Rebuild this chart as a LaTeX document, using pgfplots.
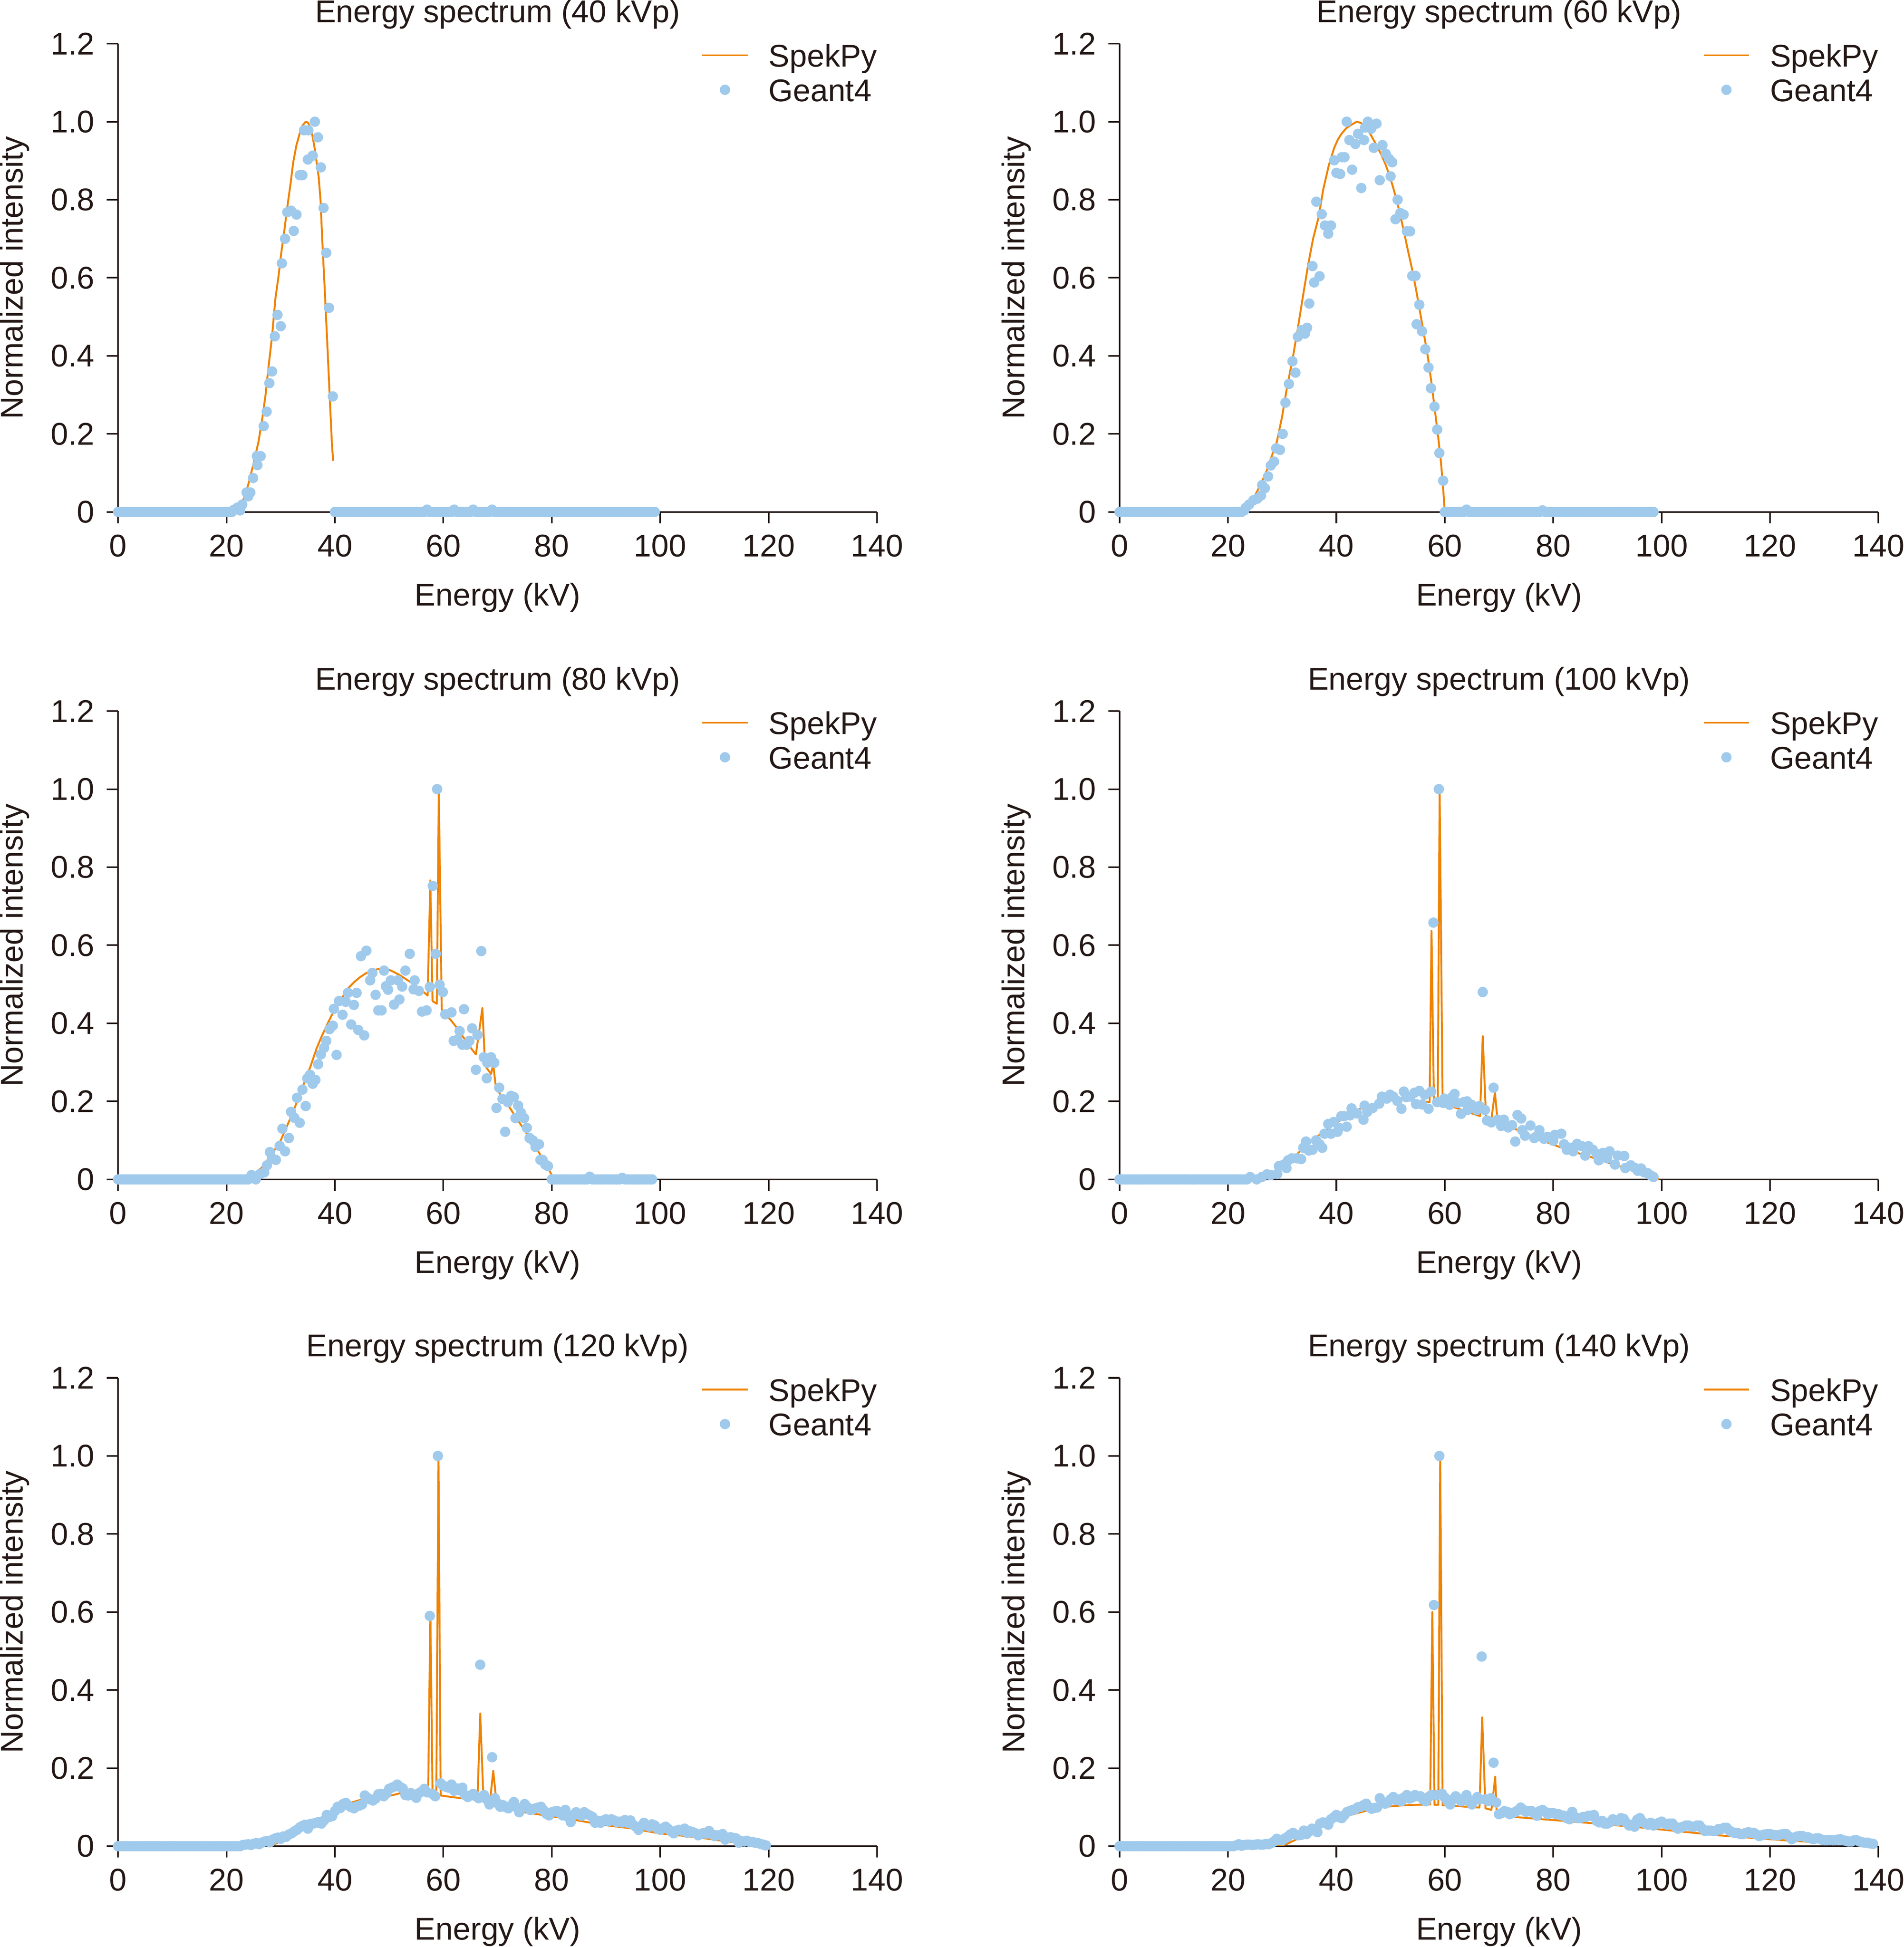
\documentclass[border=0pt]{standalone}
\usepackage{pgfplots}
\pgfplotsset{compat=1.18}
\usepackage{fontspec}
\setmainfont{Liberation Sans}
\definecolor{spek}{RGB}{239,130,0}
\definecolor{geant}{RGB}{160,202,236}
\definecolor{ink}{RGB}{35,24,21}
\newcommand\myfont{\fontsize{10}{12}\selectfont}
\pgfplotsset{
 lineleg/.style={legend image code/.code={\draw[##1] (0pt,3.7pt) -- (14.4pt,3.7pt);}},
 dotleg/.style={legend image code/.code={\draw[##1] plot coordinates {(7.2pt,3.7pt)};}},
 spk/.style={color=spek, line width=0.6pt, mark=none, line join=round, lineleg},
 g4/.style={only marks, mark=*, mark size=1.45pt, color=geant, mark options={draw=none, fill=geant}, dotleg},
 spec/.style={
  width=241.6pt, height=149.1pt, scale only axis,
  xmin=0, xmax=140, ymin=0, ymax=1.2,
  axis lines=left,
  axis line style={-, line width=0.5pt, color=ink},
  every outer x axis line/.append style={-},
  every outer y axis line/.append style={-},
  tick align=outside, major tick length=3.6pt,
  tick style={line width=0.5pt, color=ink},
  minor tick num=0,
  xtick={0,20,40,60,80,100,120,140}, xticklabels={0,20,40,60,80,100,120,140},
  ytick={0,0.2,0.4,0.6,0.8,1.0,1.2}, yticklabels={0,0.2,0.4,0.6,0.8,1.0,1.2},
  xticklabel style={font=\myfont, anchor=base, inner sep=0pt, yshift=-10.6pt},
  yticklabel style={font=\myfont, anchor=east, inner sep=0pt, xshift=-3.7pt},
  xlabel={Energy (kV)}, ylabel={Normalized intensity},
  xlabel style={font=\myfont, at={(axis description cs:0.5,-0.2)}, anchor=base, inner sep=0pt},
  ylabel style={font=\myfont, at={(axis description cs:-0.1254,0.5)}, anchor=base, inner sep=0pt},
  title style={font=\myfont, at={(axis description cs:0.5,1.0456)}, anchor=base, inner sep=0pt, yshift=-6pt},
  clip=false,
  legend style={at={(axis description cs:0.7686,0.9973)}, anchor=north west, draw=none, fill=none,
    inner sep=0pt, outer sep=0pt, row sep=2pt, column sep=6.4pt, font=\myfont,
    nodes={inner sep=0pt, text height=7pt, text depth=2pt},
    cells={anchor=base west}},
 }
}
\begin{document}
\myfont\color{ink}
\begin{tikzpicture}
% ---------------- 40 kVp
\begin{axis}[spec, at={(0pt,0pt)}, anchor=north west, title={Energy spectrum (40 kVp)}]
\addplot[spk] coordinates {(20,0)(21,0.003)(22,0.012)(22.8,0.022)(23.5,0.045)(24.1,0.075)(25,0.125)(25.9,0.18)(26.6,0.24)(27.2,0.3)(27.7,0.366)(28.4,0.45)(29,0.545)(29.6,0.605)(30.1,0.664)(30.7,0.725)(31.2,0.78)(31.8,0.84)(32.3,0.896)(32.9,0.94)(33.5,0.97)(34,0.99)(34.6,1.0)(35,0.998)(35.5,0.985)(35.9,0.96)(36.34,0.925)(37.0,0.858)(37.34,0.799)(37.67,0.694)(38.1,0.575)(38.56,0.44)(39.0,0.306)(39.45,0.172)(39.67,0.131)};
\addlegendentry{SpekPy}
\addplot[g4] coordinates {(0,0)(0.5,0)(1,0)(1.5,0)(2,0)(2.5,0)(3,0)(3.5,0)(4,0)(4.5,0)(5,0)(5.5,0)(6,0)(6.5,0)(7,0)(7.5,0)(8,0)(8.5,0)(9,0)(9.5,0)(10,0)(10.5,0)(11,0)(11.5,0)(12,0)(12.5,0)(13,0)(13.5,0)(14,0)(14.5,0)(15,0)(15.5,0)(16,0)(16.5,0)(17,0)(17.5,0)(18,0)(18.5,0)(19,0)(19.5,0)(20,0)(20.5,0)(21,0)
(21.3,0.005)(22.0,0.011)(22.5,0.004)(22.9,0.019)(23.7,0.05)(24.0,0.04)(24.4,0.05)(24.9,0.087)(25.6,0.143)(25.7,0.12)(26.3,0.143)(26.85,0.22)(27.4,0.257)(27.9,0.33)(28.4,0.36)(28.9,0.45)(29.4,0.505)(30.0,0.476)(30.2,0.637)(30.8,0.70)(31.2,0.768)(31.9,0.772)(32.4,0.72)(32.9,0.762)(33.5,0.863)(34.0,0.863)(34.3,0.978)(35.0,0.903)(35.1,0.978)(35.9,0.913)(36.3,1.0)(36.85,0.96)(37.4,0.883)(37.9,0.779)(38.4,0.664)(38.9,0.523)(39.6,0.296)
(40,0)(40.5,0)(41,0)(41.5,0)(42,0)(42.5,0)(43,0)(43.5,0)(44,0)(44.5,0)(45,0)(45.5,0)(46,0)(46.5,0)(47,0)(47.5,0)(48,0)(48.5,0)(49,0)(49.5,0)(50,0)(50.5,0)(51,0)(51.5,0)(52,0)(52.5,0)(53,0)(53.5,0)(54,0)(54.5,0)(55,0)(55.5,0)(56,0)(56.5,0)(57,0.006)(57.5,0)(58,0)(58.5,0)(59,0)(59.5,0)(60,0)(60.5,0)(61,0)(61.5,0)(62,0.006)(62.5,0)(63,0)(63.5,0)(64,0)(64.5,0)(65,0)(65.5,0.006)(66,0)(66.5,0)(67,0)(67.5,0)(68,0)(68.5,0)(69,0.006)(69.5,0)(70,0)(70.5,0)(71,0)(71.5,0)(72,0)(72.5,0)(73,0)(73.5,0)(74,0)(74.5,0)(75,0)(75.5,0)(76,0)(76.5,0)(77,0)(77.5,0)(78,0)(78.5,0)(79,0)(79.5,0)(80,0)(80.5,0)(81,0)(81.5,0)(82,0)(82.5,0)(83,0)(83.5,0)(84,0)(84.5,0)(85,0)(85.5,0)(86,0)(86.5,0)(87,0)(87.5,0)(88,0)(88.5,0)(89,0)(89.5,0)(90,0)(90.5,0)(91,0)(91.5,0)(92,0)(92.5,0)(93,0)(93.5,0)(94,0)(94.5,0)(95,0)(95.5,0)(96,0)(96.5,0)(97,0)(97.5,0)(98,0)(98.5,0)(99,0)};
\addlegendentry{Geant4}
\end{axis}
% ---------------- 60 kVp
\begin{axis}[spec, at={(318.8pt,0pt)}, anchor=north west, title={Energy spectrum (60 kVp)}]
\addplot[spk] coordinates {(22,0)(23,0.003)(24,0.02)(25.1,0.045)(26,0.07)(27.1,0.104)(28,0.14)(29,0.179)(30,0.245)(30.9,0.32)(31.9,0.39)(32.8,0.463)(33.8,0.55)(34.8,0.634)(35.7,0.7)(36.7,0.754)(37.6,0.828)(38.6,0.888)(39.6,0.933)(40.3,0.955)(41,0.97)(41.8,0.983)(42.5,0.99)(43.75,1.0)(44.5,0.997)(45.3,0.988)(46,0.975)(46.8,0.955)(47.5,0.937)(48.2,0.918)(49,0.893)(49.7,0.866)(50.4,0.835)(51.1,0.80)(51.8,0.76)(52.5,0.716)(53.2,0.67)(54,0.62)(54.7,0.57)(55.4,0.515)(56.1,0.46)(56.9,0.395)(57.6,0.325)(58.3,0.246)(58.8,0.19)(59.3,0.127)(59.7,0.06)(60,0)};
\addlegendentry{SpekPy}
\addplot[g4] coordinates {(0,0)(0.5,0)(1,0)(1.5,0)(2,0)(2.5,0)(3,0)(3.5,0)(4,0)(4.5,0)(5,0)(5.5,0)(6,0)(6.5,0)(7,0)(7.5,0)(8,0)(8.5,0)(9,0)(9.5,0)(10,0)(10.5,0)(11,0)(11.5,0)(12,0)(12.5,0)(13,0)(13.5,0)(14,0)(14.5,0)(15,0)(15.5,0)(16,0)(16.5,0)(17,0)(17.5,0)(18,0)(18.5,0)(19,0)(19.5,0)(20,0)(20.5,0)(21,0)(21.5,0)(22,0)(22.5,0)
(23.0,0.004)(23.3,0.011)(23.9,0.019)(24.7,0.03)(25.4,0.034)(26.1,0.042)(26.3,0.069)(26.8,0.061)(27.4,0.091)(27.9,0.119)(28.5,0.129)(28.9,0.163)(29.6,0.159)(30.1,0.2)(30.6,0.28)(31.25,0.328)(31.9,0.386)(32.45,0.357)(32.9,0.449)(33.6,0.466)(34.2,0.457)(34.6,0.472)(35.0,0.534)(35.6,0.63)(35.9,0.588)(36.3,0.795)(36.9,0.604)(37.3,0.763)(37.9,0.734)(38.5,0.713)(39.0,0.734)(39.6,0.901)(40.0,0.869)(40.7,0.866)(41.0,0.909)(41.5,0.909)(41.9,1.0)(42.4,0.953)(42.9,0.877)(43.5,0.943)(44.0,0.969)(44.6,0.83)(45.1,0.953)(45.3,0.985)(45.8,1.0)(46.4,0.982)(46.9,0.933)(47.4,0.995)(48.0,0.85)(48.5,0.94)(49.1,0.918)(49.7,0.905)(50.0,0.86)(50.3,0.896)(50.9,0.75)(51.3,0.80)(51.8,0.766)(52.4,0.762)(53.0,0.719)(53.6,0.719)(54.0,0.605)(54.6,0.605)(54.8,0.481)(55.3,0.531)(55.8,0.463)(56.4,0.417)(57.0,0.37)(57.45,0.317)(58.1,0.27)(58.6,0.211)(59.0,0.151)(59.7,0.08)(60.0,0)
(60.5,0)(61,0)(61.5,0)(62,0)(62.5,0)(63,0)(63.5,0)(64,0.006)(64.5,0)(65,0)(65.5,0)(66,0)(66.5,0)(67,0)(67.5,0)(68,0)(68.5,0)(69,0)(69.5,0)(70,0)(70.5,0)(71,0)(71.5,0)(72,0)(72.5,0)(73,0)(73.5,0)(74,0)(74.5,0)(75,0)(75.5,0)(76,0)(76.5,0)(77,0)(77.5,0)(78,0.004)(78.5,0)(79,0)(79.5,0)(80,0)(80.5,0)(81,0)(81.5,0)(82,0)(82.5,0)(83,0)(83.5,0)(84,0)(84.5,0)(85,0)(85.5,0)(86,0)(86.5,0)(87,0)(87.5,0)(88,0)(88.5,0)(89,0)(89.5,0)(90,0)(90.5,0)(91,0)(91.5,0)(92,0)(92.5,0)(93,0)(93.5,0)(94,0)(94.5,0)(95,0)(95.5,0)(96,0)(96.5,0)(97,0)(97.5,0)(98,0)(98.5,0)};
\addlegendentry{Geant4}
\end{axis}
% ---------------- 80 kVp
\begin{axis}[spec, at={(0pt,-212.5pt)}, anchor=north west, title={Energy spectrum (80 kVp)}]
\addplot[spk] coordinates {(24,0)(25.1,0.014)(26.5,0.03)(27.8,0.054)(29,0.078)(30,0.10)(31.1,0.135)(32.2,0.17)(33.3,0.21)(34.4,0.25)(35.5,0.29)(36.6,0.335)(37.5,0.365)(38.4,0.392)(39.3,0.418)(40.2,0.439)(41.3,0.465)(42.4,0.489)(43.5,0.505)(44.6,0.518)(45.7,0.528)(46.8,0.535)(48,0.539)(49.05,0.54)(50,0.537)(50.8,0.532)(52,0.523)(53,0.514)(54.1,0.504)(55.25,0.493)(56.2,0.482)(57.1,0.471)(57.6,0.766)(58.0,0.457)(58.8,0.45)(59.16,0.996)(59.7,0.435)(60.6,0.42)(61.5,0.406)(62.4,0.39)(63.2,0.374)(64.1,0.356)(65.0,0.338)(66.0,0.32)(67.2,0.439)(67.7,0.291)(68.8,0.27)(69.2,0.295)(69.7,0.234)(70.9,0.21)(72.1,0.187)(73.2,0.163)(74.3,0.14)(75.4,0.117)(76.5,0.094)(77.4,0.074)(78.3,0.054)(79.2,0.032)(80,0.011)(80.3,0)};
\addlegendentry{SpekPy}
\addplot[g4] coordinates {(0,0)(0.5,0)(1,0)(1.5,0)(2,0)(2.5,0)(3,0)(3.5,0)(4,0)(4.5,0)(5,0)(5.5,0)(6,0)(6.5,0)(7,0)(7.5,0)(8,0)(8.5,0)(9,0)(9.5,0)(10,0)(10.5,0)(11,0)(11.5,0)(12,0)(12.5,0)(13,0)(13.5,0)(14,0)(14.5,0)(15,0)(15.5,0)(16,0)(16.5,0)(17,0)(17.5,0)(18,0)(18.5,0)(19,0)(19.5,0)(20,0)(20.5,0)(21,0)(21.5,0)(22,0)(22.5,0)(23,0)(23.5,0)(24,0)
(24.6,0.011)(25.4,0)(26.2,0.014)(26.96,0.018)(27.45,0.036)(28.0,0.07)(28.4,0.054)(29.1,0.05)(29.8,0.086)(30.3,0.13)(30.8,0.072)(31.5,0.106)(31.9,0.173)(32.5,0.158)(33.0,0.209)(33.5,0.145)(34.0,0.23)(34.6,0.188)(34.9,0.259)(35.4,0.268)(35.9,0.245)(36.4,0.255)(36.9,0.295)(37.4,0.32)(38.0,0.337)(38.4,0.355)(39.0,0.385)(39.6,0.394)(39.8,0.437)(40.3,0.319)(40.75,0.457)(41.4,0.422)(42.0,0.455)(42.4,0.478)(43.0,0.397)(43.5,0.447)(44.0,0.478)(44.3,0.383)(44.8,0.572)(45.4,0.369)(45.8,0.586)(46.5,0.51)(46.9,0.529)(47.5,0.473)(48.0,0.433)(48.6,0.433)(49.05,0.535)(49.4,0.495)(49.8,0.486)(50.3,0.51)(50.9,0.448)(51.6,0.51)(51.9,0.461)(52.4,0.494)(53.0,0.535)(53.8,0.578)(54.5,0.487)(54.7,0.51)(55.5,0.483)(56.05,0.43)(56.9,0.433)(57.5,0.493)(58.05,0.752)(58.6,0.578)(58.85,1.0)(59.3,0.499)(59.9,0.48)(60.35,0.423)(61.5,0.428)(61.9,0.355)(62.6,0.358)(63.0,0.38)(63.5,0.345)(63.8,0.436)(64.3,0.345)(64.8,0.355)(65.3,0.387)(66.0,0.281)(66.3,0.37)(67.0,0.585)(67.45,0.313)(68.0,0.259)(68.1,0.299)(68.8,0.313)(69.4,0.299)(69.8,0.183)(70.3,0.235)(70.9,0.206)(71.4,0.122)(71.9,0.198)(72.5,0.214)(73.0,0.211)(73.3,0.157)(73.8,0.189)(74.3,0.171)(74.9,0.157)(75.4,0.132)(75.9,0.106)(76.5,0.10)(77.0,0.083)(77.65,0.09)(77.9,0.05)(78.3,0.05)(78.8,0.038)(79.3,0.034)(80,0)
(80.5,0)(81,0)(81.5,0)(82,0)(82.5,0)(83,0)(83.5,0)(84,0)(84.5,0)(85,0)(85.5,0)(86,0)(86.5,0)(87,0.007)(87.5,0)(88,0)(88.5,0)(89,0)(89.5,0)(90,0)(90.5,0)(91,0)(91.5,0)(92,0)(92.5,0)(93,0.004)(93.5,0)(94,0)(94.5,0)(95,0)(95.5,0)(96,0)(96.5,0)(97,0)(97.5,0)(98,0)(98.5,0)};
\addlegendentry{Geant4}
\end{axis}
% ---------------- 100 kVp
\begin{axis}[spec, at={(318.8pt,-212.5pt)}, anchor=north west, title={Energy spectrum (100 kVp)}]
\addplot[spk] coordinates {(24,0)(26,0.006)(29.1,0.018)(31,0.04)(33,0.068)(34.5,0.09)(36.3,0.108)(38.2,0.128)(40.2,0.147)(42.4,0.166)(44.5,0.182)(46.5,0.192)(48.4,0.2)(50.3,0.204)(52.2,0.205)(54.5,0.202)(57.2,0.198)(57.55,0.637)(58.0,0.194)(58.7,0.194)(59.05,1.0)(59.6,0.194)(61.2,0.187)(62.8,0.18)(64.6,0.171)(66.5,0.162)(67.0,0.367)(67.6,0.158)(68.6,0.155)(69.25,0.223)(69.75,0.147)(71,0.14)(72.4,0.133)(74.8,0.118)(77.2,0.104)(79.6,0.091)(82,0.079)(84.4,0.068)(86.8,0.058)(89.2,0.047)(91.6,0.036)(94.5,0.025)(96.5,0.016)(98.5,0.007)(99.6,0)};
\addlegendentry{SpekPy}
\addplot[g4] coordinates {(0,0)(0.5,0)(1,0)(1.5,0)(2,0)(2.5,0)(3,0)(3.5,0)(4,0)(4.5,0)(5,0)(5.5,0)(6,0)(6.5,0)(7,0)(7.5,0)(8,0)(8.5,0)(9,0)(9.5,0)(10,0)(10.5,0)(11,0)(11.5,0)(12,0)(12.5,0)(13,0)(13.5,0)(14,0)(14.5,0)(15,0)(15.5,0)(16,0)(16.5,0)(17,0)(17.5,0)(18,0)(18.5,0)(19,0)(19.5,0)(20,0)(20.5,0)(21,0)(21.5,0)(22,0)(22.5,0)(23,0)(23.5,0)
(24.1,0.006)(25.3,0)(26.25,0.006)(27.2,0.013)(27.9,0.011)(29.1,0.014)(29.4,0.034)(30.3,0.038)(30.8,0.029)(31.1,0.049)(31.8,0.054)(32.7,0.054)(33.5,0.052)(33.9,0.081)(34.4,0.097)(34.9,0.074)(35.6,0.076)(36.25,0.10)(36.9,0.09)(37.4,0.081)(37.8,0.117)(38.5,0.142)(39.0,0.117)(39.5,0.147)(40.2,0.122)(40.5,0.132)(40.9,0.162)(41.4,0.162)(41.9,0.135)(42.5,0.164)(42.8,0.182)(43.8,0.169)(45.0,0.153)(45.2,0.189)(45.7,0.173)(46.7,0.183)(47.9,0.194)(48.4,0.212)(49.3,0.207)(49.9,0.217)(50.5,0.212)(51.25,0.201)(52.0,0.181)(52.45,0.225)(52.9,0.211)(53.65,0.212)(54.4,0.222)(54.7,0.193)(55.3,0.227)(55.8,0.192)(56.3,0.217)(57.0,0.181)(57.5,0.225)(57.9,0.658)(58.6,0.198)(58.9,1.0)(59.7,0.196)(59.9,0.207)(60.9,0.191)(61.35,0.211)(61.8,0.219)(62.3,0.196)(63.0,0.168)(63.5,0.198)(64.1,0.2)(64.2,0.178)(64.95,0.191)(65.9,0.178)(66.4,0.188)(67.0,0.48)(67.4,0.178)(67.8,0.151)(68.6,0.146)(69.0,0.235)(69.75,0.153)(70.4,0.137)(70.9,0.153)(71.7,0.133)(72.4,0.139)(73.0,0.097)(73.4,0.165)(74.1,0.156)(74.3,0.126)(74.8,0.112)(75.8,0.138)(76.5,0.106)(76.7,0.108)(77.45,0.126)(78.3,0.104)(78.9,0.109)(80.0,0.099)(80.3,0.114)(81.5,0.117)(82.0,0.09)(82.5,0.076)(83.1,0.081)(83.7,0.072)(84.4,0.091)(85.3,0.085)(85.9,0.061)(86.5,0.085)(87.3,0.076)(88.0,0.065)(88.4,0.049)(89.2,0.068)(89.95,0.054)(90.4,0.072)(91.4,0.038)(91.9,0.061)(93.1,0.06)(93.3,0.029)(94.3,0.036)(95,0.03)(95.6,0.022)(96.2,0.028)(96.8,0.018)(97.4,0.016)(98,0.01)(98.5,0.006)};
\addlegendentry{Geant4}
\end{axis}
% ---------------- 120 kVp
\begin{axis}[spec, at={(0pt,-424.8pt)}, anchor=north west, title={Energy spectrum (120 kVp)}]
\addplot[spk] coordinates {(24,0)(26,0.002)(28.8,0.005)(31,0.018)(33,0.035)(35,0.052)(37,0.068)(39.5,0.093)(42,0.108)(44.8,0.119)(47.3,0.124)(49.8,0.128)(52.1,0.136)(54.5,0.138)(57.2,0.139)(57.6,0.6)(58.0,0.135)(58.7,0.134)(59.1,1.0)(59.5,0.13)(61.5,0.126)(63.4,0.123)(66.3,0.12)(66.8,0.34)(67.4,0.118)(68.6,0.115)(69.2,0.193)(69.8,0.112)(71,0.1)(73.4,0.09)(76,0.085)(78.7,0.079)(83.6,0.069)(89.2,0.055)(94.5,0.046)(99.8,0.033)(106.8,0.023)(113.9,0.009)(119.9,0.001)};
\addlegendentry{SpekPy}
\addplot[g4] coordinates {(0,0)(0.5,0)(1,0)(1.5,0)(2,0)(2.5,0)(3,0)(3.5,0)(4,0)(4.5,0)(5,0)(5.5,0)(6,0)(6.5,0)(7,0)(7.5,0)(8,0)(8.5,0)(9,0)(9.5,0)(10,0)(10.5,0)(11,0)(11.5,0)(12,0)(12.5,0)(13,0)(13.5,0)(14,0)(14.5,0)(15,0)(15.5,0)(16,0)(16.5,0)(17,0)(17.5,0)(18,0)(18.5,0)(19,0)(19.5,0)(20,0)(20.5,0)(21,0)(21.5,0)(22,0)(22.5,0)
(23,0.003)(23.5,0.004)(24,0.005)(24.5,0.003)(25,0.006)(25.5,0.008)(26,0.005)(26.5,0.009)(27,0.012)(27.5,0.013)(28,0.01)(28.5,0.017)(29,0.02)(29.5,0.022)(30,0.019)(30.5,0.025)(31,0.024)(31.5,0.03)(32,0.033)(32.5,0.038)(33,0.042)(33.5,0.048)(34,0.052)(34.5,0.055)(35,0.045)(35.5,0.057)(36,0.058)(36.5,0.06)(37,0.062)(37.5,0.058)(38,0.066)(38.5,0.08)(39,0.075)(39.5,0.077)(40,0.09)(40.5,0.101)(41,0.098)(41.5,0.108)(42,0.111)(42.5,0.104)(43,0.1)(43.5,0.097)(44,0.102)(44.5,0.104)(45,0.107)(45.5,0.13)(46,0.124)(46.5,0.12)(47,0.117)(47.5,0.122)(48,0.133)(48.5,0.134)(49,0.128)(49.5,0.135)(50,0.147)(50.5,0.15)(51,0.153)(51.5,0.158)(52,0.152)(52.5,0.148)(53,0.131)(53.5,0.13)(54,0.136)(54.5,0.13)(55,0.124)(55.5,0.136)(56,0.14)(56.5,0.147)(57,0.138)(57.5,0.59)(58,0.134)(58.5,0.128)(59,1.0)(59.5,0.161)(60,0.155)(60.5,0.152)(61,0.15)(61.5,0.158)(62,0.142)(62.5,0.148)(63,0.143)(63.5,0.15)(64,0.131)(64.5,0.126)(65,0.13)(65.5,0.134)(66,0.128)(66.5,0.123)(66.8,0.465)(67.5,0.131)(68,0.12)(68.5,0.107)(69,0.228)(69.5,0.123)(70,0.11)(70.5,0.101)(71,0.105)(71.5,0.1)(72,0.097)(72.5,0.104)(73,0.113)(73.5,0.1)(74,0.087)(74.5,0.098)(75,0.108)(75.5,0.1)(76,0.093)(76.5,0.095)(77,0.097)(77.5,0.099)(78,0.101)(78.5,0.092)(79,0.083)(79.5,0.079)(80,0.087)(80.5,0.089)(81,0.09)(81.5,0.085)(82,0.079)(82.5,0.093)(83,0.075)(83.5,0.062)(84,0.08)(84.5,0.087)(85,0.083)(85.5,0.078)(86,0.087)(86.5,0.082)(87,0.079)(87.5,0.075)(88,0.06)(88.5,0.065)(89,0.06)(89.5,0.066)(90,0.069)(90.5,0.064)(91,0.069)(91.5,0.066)(92,0.062)(92.5,0.063)(93,0.061)(93.5,0.067)(94,0.06)(94.5,0.066)(95,0.055)(95.5,0.05)(96,0.042)(96.5,0.052)(97,0.06)(97.5,0.053)(98,0.05)(98.5,0.056)(99,0.053)(99.5,0.045)(100,0.042)(100.5,0.046)(101,0.05)(101.5,0.044)(102,0.038)(102.5,0.033)(103,0.04)(103.5,0.042)(104,0.04)(104.5,0.045)(105,0.034)(105.5,0.038)(106,0.036)(106.5,0.033)(107,0.028)(107.5,0.031)(108,0.034)(108.5,0.032)(109,0.039)(109.5,0.031)(110,0.026)(110.5,0.028)(111,0.028)(111.5,0.031)(112,0.017)(112.5,0.022)(113,0.023)(113.5,0.021)(114,0.02)(114.5,0.009)(115,0.013)(115.5,0.012)(116,0.014)(116.5,0.011)(117,0.011)(117.5,0.009)(118,0.008)(118.5,0.006)(119,0.004)(119.5,0.002)};
\addlegendentry{Geant4}
\end{axis}
% ---------------- 140 kVp
\begin{axis}[spec, at={(318.8pt,-424.8pt)}, anchor=north west, title={Energy spectrum (140 kVp)}]
\addplot[spk] coordinates {(26,0)(28,0.002)(30.6,0.004)(33,0.02)(35,0.033)(38,0.055)(41,0.074)(45.3,0.09)(49,0.101)(52.7,0.105)(57.3,0.107)(57.7,0.6)(58.1,0.106)(58.8,0.106)(59.15,1.0)(59.6,0.105)(62,0.103)(66.4,0.099)(66.9,0.33)(67.5,0.097)(68.6,0.093)(69.3,0.178)(69.6,0.077)(72,0.076)(77.1,0.07)(80,0.067)(88,0.058)(96.9,0.047)(104,0.037)(110.4,0.028)(117,0.021)(123.8,0.014)(130,0.009)(135,0.005)(139.9,0.003)};
\addlegendentry{SpekPy}
\addplot[g4] coordinates {(0,0)(0.5,0)(1,0)(1.5,0)(2,0)(2.5,0)(3,0)(3.5,0)(4,0)(4.5,0)(5,0)(5.5,0)(6,0)(6.5,0)(7,0)(7.5,0)(8,0)(8.5,0)(9,0)(9.5,0)(10,0)(10.5,0)(11,0)(11.5,0)(12,0)(12.5,0)(13,0)(13.5,0)(14,0)(14.5,0)(15,0)(15.5,0)(16,0)(16.5,0)(17,0)(17.5,0)(18,0)(18.5,0)(19,0)(19.5,0)(20,0)(20.5,0)(21,0)
(21.5,0.002)(22,0.005)(22.5,0.001)(23,0.003)(23.5,0.004)(24,0.004)(24.5,0.003)(25,0.004)(25.5,0.005)(26,0.004)(26.5,0.004)(27,0.006)(27.5,0.005)(28,0.008)(28.5,0.012)(29,0.019)(29.5,0.016)(30,0.015)(30.5,0.02)(31,0.024)(31.5,0.03)(32,0.034)(32.5,0.03)(33,0.028)(33.5,0.029)(34,0.04)(34.5,0.031)(35,0.038)(35.5,0.045)(36,0.04)(36.5,0.036)(37,0.058)(37.5,0.061)(38,0.06)(38.5,0.055)(39,0.069)(39.5,0.074)(40,0.08)(40.5,0.074)(41,0.072)(41.5,0.08)(42,0.088)(42.5,0.09)(43,0.093)(43.5,0.095)(44,0.1)(44.5,0.101)(45,0.105)(45.5,0.109)(46,0.1)(46.5,0.096)(47,0.098)(47.5,0.099)(48,0.123)(48.5,0.11)(49,0.109)(49.5,0.113)(50,0.12)(50.5,0.126)(51,0.118)(51.5,0.12)(52,0.115)(52.5,0.125)(53,0.131)(53.5,0.122)(54,0.125)(54.5,0.131)(55,0.128)(55.5,0.128)(56,0.12)(56.5,0.115)(57,0.126)(57.5,0.131)(58,0.618)(58.5,0.131)(59,1.0)(59.5,0.134)(60,0.125)(60.5,0.115)(61,0.107)(61.5,0.12)(62,0.128)(62.5,0.122)(63,0.115)(63.5,0.12)(64,0.131)(64.5,0.115)(65,0.107)(65.5,0.118)(66,0.126)(66.5,0.12)(66.8,0.486)(67.5,0.12)(68,0.116)(68.5,0.123)(69,0.214)(69.5,0.112)(70,0.082)(70.5,0.085)(71,0.09)(71.5,0.088)(72,0.082)(72.5,0.085)(73,0.088)(73.5,0.092)(74,0.099)(74.5,0.093)(75,0.088)(75.5,0.09)(76,0.09)(76.5,0.084)(77,0.078)(77.5,0.09)(78,0.093)(78.5,0.088)(79,0.082)(79.5,0.085)(80,0.085)(80.5,0.082)(81,0.082)(81.5,0.079)(82,0.078)(82.5,0.072)(83,0.069)(83.5,0.088)(84,0.075)(84.5,0.072)(85,0.072)(85.5,0.075)(86,0.075)(86.5,0.078)(87,0.078)(87.5,0.08)(88,0.065)(88.5,0.061)(89,0.065)(89.5,0.058)(90,0.058)(90.5,0.062)(91,0.069)(91.5,0.066)(92,0.065)(92.5,0.072)(93,0.07)(93.5,0.06)(94,0.053)(94.5,0.055)(95,0.05)(95.5,0.068)(96,0.072)(96.5,0.062)(97,0.058)(97.5,0.055)(98,0.06)(98.5,0.053)(99,0.056)(99.5,0.06)(100,0.063)(100.5,0.058)(101,0.055)(101.5,0.058)(102,0.058)(102.5,0.05)(103,0.045)(103.5,0.048)(104,0.05)(104.5,0.053)(105,0.053)(105.5,0.05)(106,0.05)(106.5,0.053)(107,0.053)(107.5,0.045)(108,0.039)(108.5,0.04)(109,0.04)(109.5,0.039)(110,0.039)(110.5,0.044)(111,0.044)(111.5,0.047)(112,0.047)(112.5,0.04)(113,0.036)(113.5,0.034)(114,0.034)(114.5,0.031)(115,0.031)(115.5,0.034)(116,0.036)(116.5,0.034)(117,0.034)(117.5,0.03)(118,0.026)(118.5,0.028)(119,0.03)(119.5,0.031)(120,0.031)(120.5,0.029)(121,0.028)(121.5,0.028)(122,0.03)(122.5,0.031)(123,0.031)(123.5,0.025)(124,0.018)(124.5,0.022)(125,0.025)(125.5,0.026)(126,0.026)(126.5,0.023)(127,0.023)(127.5,0.02)(128,0.018)(128.5,0.02)(129,0.02)(129.5,0.017)(130,0.015)(130.5,0.015)(131,0.016)(131.5,0.015)(132,0.015)(132.5,0.017)(133,0.018)(133.5,0.015)(134,0.014)(134.5,0.012)(135,0.012)(135.5,0.015)(136,0.015)(136.5,0.012)(137,0.01)(137.5,0.009)(138,0.009)(138.5,0.007)(139,0.006)};
\addlegendentry{Geant4}
\end{axis}
\pgfresetboundingbox
\path[use as bounding box] (-37.6pt,13.9pt) rectangle (568.5pt,-606pt);
\end{tikzpicture}
\end{document}
